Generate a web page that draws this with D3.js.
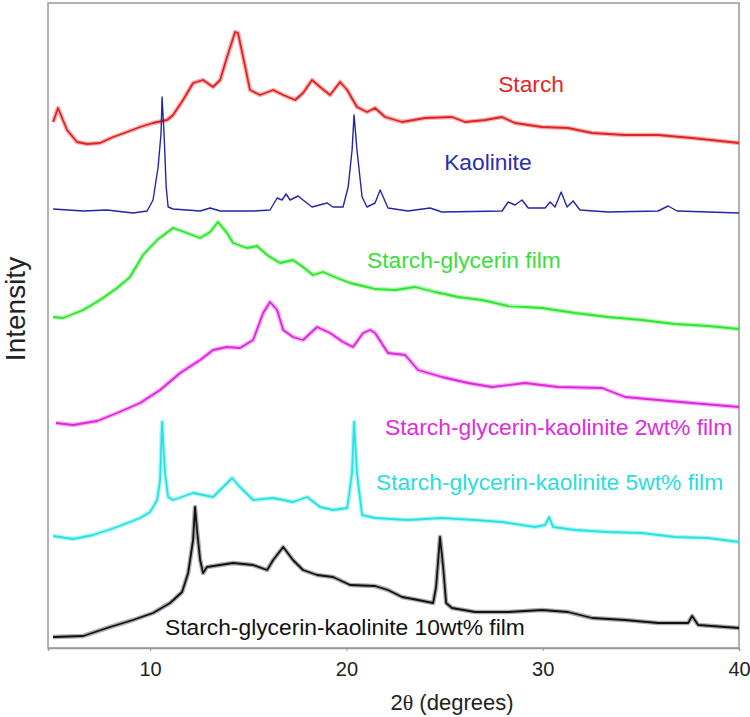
<!DOCTYPE html>
<html>
<head>
    <meta charset="utf-8">
    <title>XRD patterns</title>
    <style>
    body { margin: 0; background: #fff; }
    svg { display: block; font-family: "Liberation Sans", Arial, sans-serif; }
    .frame { fill: none; stroke: #999; stroke-width: 1.5px; }
    </style>
</head>
<body>
<svg id="chart"></svg>
<script src="https://d3js.org/d3.v7.min.js"></script>
<script>

    // 2theta (degrees), intensity (a.u.)
    const starch = [
        [5.06,526],[5.31,540],[5.77,518],[6.28,506],[6.79,504],[7.45,505],[8.12,511],[8.83,516],
        [9.49,521],[10.15,525],[10.87,528],[11.17,533],[11.68,548],[12.19,565],[12.70,568],[13.21,561],
        [13.57,568],[13.92,591],[14.33,616],[14.48,615],[14.74,591],[15.09,558],[15.60,553],[16.27,558],
        [16.78,553],[17.39,548],[17.79,555],[18.25,568],[18.66,561],[19.17,553],[19.68,566],[20.04,558],
        [20.54,541],[21.05,536],[21.46,540],[21.97,531],[22.84,526],[24.01,530],[25.38,531],[26.05,526],
        [27.07,528],[27.93,531],[28.59,525],[29.97,521],[31.29,520],[32.52,515],[34.20,513],[35.88,513],
        [37.61,510],[40,505]
    ];
    const kaolinite = [
        [5.06,439],[6.59,437],[7.81,438],[9.13,435],[9.85,437],[10.15,448],[10.41,481],[10.56,515],
        [10.61,551],[10.71,515],[10.82,461],[10.92,441],[11.17,439],[12.55,437],[13.06,440],[13.57,437],
        [15.25,437],[16.11,438],[16.47,450],[16.72,448],[16.93,454],[17.13,448],[17.54,452],[17.79,448],
        [18.25,441],[19.02,445],[19.32,441],[19.83,441],[20.09,461],[20.29,498],[20.39,533],[20.54,498],
        [20.80,451],[21.05,441],[21.46,445],[21.72,458],[22.12,440],[23.14,437],[24.26,440],[24.87,436],
        [27.93,437],[28.24,446],[28.59,443],[28.95,448],[29.26,440],[30.12,440],[30.38,446],[30.63,441],
        [30.94,456],[31.24,441],[31.55,447],[31.90,438],[33.33,436],[35.88,437],[36.39,442],[36.85,437],
        [38.43,436],[40,435]
    ];
    const sgFilm = [
        [5.06,331],[5.57,330],[6.59,338],[7.45,348],[8.32,360],[8.98,371],[9.64,393],[10.36,408],
        [11.17,420],[11.88,415],[12.55,410],[13.06,416],[13.46,426],[13.92,415],[14.23,405],[14.94,400],
        [15.45,402],[15.96,393],[16.62,385],[17.28,388],[17.79,381],[18.30,373],[18.81,376],[19.53,370],
        [20.19,365],[21.05,361],[21.46,359],[22.48,358],[23.50,361],[24.52,356],[25.69,351],[26.91,348],
        [28.24,342],[29.97,340],[31.65,335],[33.33,331],[35.06,328],[36.74,324],[38.43,322],[40,319]
    ];
    const sgk2 = [
        [5.21,225],[6.08,223],[7.30,227],[8.32,235],[9.49,245],[10.51,258],[11.53,275],[12.55,288],
        [13.21,298],[13.92,301],[14.58,300],[15.25,308],[15.76,335],[16.11,346],[16.47,338],[16.78,318],
        [17.28,311],[17.79,308],[18.51,321],[19.17,315],[19.83,306],[20.34,301],[20.85,315],[21.21,318],
        [21.46,315],[22.12,295],[22.99,293],[23.65,278],[24.87,271],[26.20,265],[27.42,261],[29.10,265],
        [30.78,261],[33.03,260],[34.20,251],[35.88,248],[37.61,245],[40,241]
    ];
    const sgk5 = [
        [5.06,112],[6.08,109],[7.10,113],[8.32,121],[9.49,130],[10.00,136],[10.36,148],[10.51,168],
        [10.61,226],[10.76,175],[10.92,151],[11.17,148],[12.19,155],[13.21,151],[13.72,161],[14.18,170],
        [14.58,161],[15.25,148],[16.27,150],[17.28,146],[18.00,151],[18.66,141],[19.32,138],[20.04,140],
        [20.29,175],[20.39,226],[20.54,175],[20.80,133],[21.46,130],[23.14,128],[24.87,130],[26.56,128],
        [27.93,126],[29.61,121],[30.12,123],[30.33,131],[30.53,121],[31.65,118],[33.33,116],[35.06,115],
        [36.74,111],[38.43,110],[40,106]
    ];
    const sgk10 = [
        [5.06,11],[6.59,12],[7.96,21],[9.13,28],[10.15,35],[11.02,45],[11.63,56],[11.94,75],
        [12.19,108],[12.29,141],[12.39,118],[12.55,88],[12.70,75],[12.90,81],[14.23,85],[15.25,83],
        [15.96,78],[16.27,88],[16.78,101],[17.28,88],[17.79,78],[18.51,73],[19.32,71],[20.19,63],
        [21.46,62],[22.12,58],[22.84,51],[23.65,48],[24.42,45],[24.57,61],[24.77,111],[24.93,81],
        [25.08,45],[25.38,40],[26.56,36],[28.24,36],[29.97,38],[31.29,36],[32.52,30],[34.20,28],
        [35.88,25],[37.41,25],[37.61,32],[37.92,23],[40,20]
    ];

    const seriesNames = ["Starch", "Kaolinite", "Starch-glycerin film",
        "Starch-glycerin-kaolinite 2wt% film", "Starch-glycerin-kaolinite 5wt% film",
        "Starch-glycerin-kaolinite 10wt% film"];
    const seriesData = [starch, kaolinite, sgFilm, sgk2, sgk5, sgk10];
    const seriesColors = ["#e22222", "#2424a8", "#2ee62e", "#e024e0", "#26e2e2", "#111111"];
    const labelColors = ["#e02828", "#2a2ab4", "#3ade3a", "#dc2cdc", "#2cdcdc", "#111111"];
    // where each label starts: [2theta, intensity] of its baseline
    const labelAnchors = [[27.73,556],[24.98,478],[21.05,380],[21.97,213],[21.51,158],[10.76,13]];
    const xTicks = [10, 20, 30, 40];

    const svgWidth = 750, svgHeight = 717;
    const plotLeft = 48, plotRight = 739, plotTop = 3, plotBottom = 648;

    const svg = d3.select('#chart')
        .attr("width", svgWidth)
        .attr("height", svgHeight);

    const x = d3.scaleLinear().domain([4.8, 40]).range([plotLeft, plotRight]);
    const y = d3.scaleLinear().domain([0, 645]).range([plotBottom, plotTop]);

    // plot frame
    svg.append("rect")
        .attr("class", "frame")
        .attr("x", plotLeft)
        .attr("y", plotTop)
        .attr("width", plotRight - plotLeft)
        .attr("height", plotBottom - plotTop);

    // bottom axis
    const xAxis = svg.append("g")
        .attr("transform", "translate(0," + plotBottom + ")")
        .call(d3.axisBottom(x).tickValues(xTicks).tickSize(3).tickPadding(11).tickFormat(d3.format("d")))
        .attr("font-size", 20)
        .attr("font-family", "'Liberation Sans', Arial, sans-serif");
    xAxis.select(".domain").attr("stroke", "#999").attr("stroke-width", 1.5);
    xAxis.selectAll(".tick line").attr("stroke", "#999");
    xAxis.selectAll(".tick text").attr("fill", "#222");

    const line = d3.line()
        .x(function(d) { return x(d[0]); })
        .y(function(d) { return y(d[1]); });

    seriesData.forEach(function(data, i) {
        const thin = i === 1;
        // soft band standing in for the counting noise
        if (!thin) {
            svg.append("path")
                .datum(data)
                .attr("fill", "none")
                .attr("stroke", seriesColors[i])
                .attr("stroke-opacity", 0.35)
                .attr("stroke-width", 4.5)
                .attr("stroke-linejoin", "round")
                .attr("d", line);
        }
        svg.append("path")
            .datum(data)
            .attr("fill", "none")
            .attr("stroke", seriesColors[i])
            .attr("stroke-width", thin ? 1.4 : 1.8)
            .attr("stroke-linejoin", "round")
            .attr("d", line);
    });

    // series labels
    svg.append("g").selectAll("text")
        .data(seriesNames)
        .join("text")
        .attr("x", function(d, i) { return x(labelAnchors[i][0]); })
        .attr("y", function(d, i) { return y(labelAnchors[i][1]); })
        .attr("fill", function(d, i) { return labelColors[i]; })
        .style("font-size", "22.8px")
        .text(function(d) { return d; });

    // axis titles
    const xTitle = svg.append("text")
        .attr("x", 452)
        .attr("y", 710)
        .attr("text-anchor", "middle")
        .attr("fill", "#222")
        .style("font-size", "22px");
    xTitle.append("tspan").text("2");
    xTitle.append("tspan").style("font-family", "'Liberation Serif', 'DejaVu Serif', serif").text("\u03b8");
    xTitle.append("tspan").text(" (degrees)");

    svg.append("text")
        .attr("transform", "translate(25,309) rotate(-90)")
        .attr("text-anchor", "middle")
        .attr("fill", "#222")
        .style("font-size", "28px")
        .text("Intensity");

</script>
</body>
</html>
